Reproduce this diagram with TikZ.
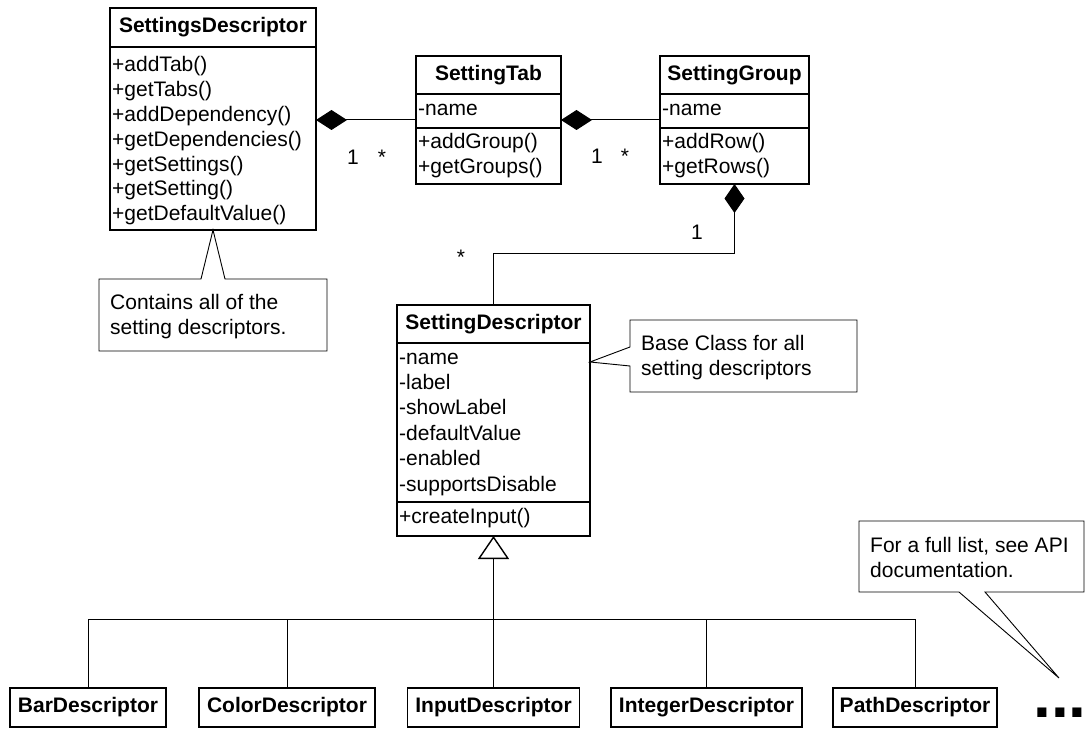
\documentclass[tikz,border=0pt]{standalone}
\usepackage{fontspec}
\setmainfont{Liberation Sans}
\usetikzlibrary{arrows.meta,calc}
\newcommand{\diagfont}{\fontsize{21pt}{25pt}\selectfont}
\newcommand{\dotsfont}{\fontsize{64pt}{70pt}\selectfont\bfseries}
\begin{document}
\begin{tikzpicture}[x=1pt,y=-1pt,
  cls/.style={draw,line width=1.6pt,anchor=north west,inner sep=0pt,outer sep=0pt},
  sepline/.style={line width=1.6pt},
  ttl/.style={font=\diagfont\bfseries,anchor=center,inner sep=0pt},
  mem/.style={font=\diagfont,anchor=base west,inner sep=0pt},
  conn/.style={line width=1pt},
  notebox/.style={draw,line width=0.9pt,fill=white,line join=miter},
  mult/.style={font=\diagfont,anchor=base,inner sep=0pt},
  leaf/.style={draw,line width=1.6pt,minimum height=39pt,font=\diagfont\bfseries,inner sep=0pt,outer sep=0pt},
]
\useasboundingbox (0,0) rectangle (1086,730);

% ---------- SettingsDescriptor ----------
\node[cls,minimum width=206pt,minimum height=222pt] (sd) at (110,8) {};
\draw[sepline] (sd.west |- 0,47) -- (sd.east |- 0,47);
\node[ttl] (sdT) at (sd.north |- 0,27.5) {SettingsDescriptor};
\foreach \txt [count=\i] in {{+addTab()},{+getTabs()},{+addDependency()},{+getDependencies()},{+getSettings()},{+getSetting()},{+getDefaultValue()}}
  \node[mem] (sdM\i) at (112,{72+24.8*(\i-1)}) {\txt};

% ---------- SettingTab ----------
\node[cls,minimum width=145pt,minimum height=128pt] (tab) at (416,56) {};
\draw[sepline] (tab.west |- 0,94) -- (tab.east |- 0,94);
\draw[sepline] (tab.west |- 0,128) -- (tab.east |- 0,128);
\node[ttl] (tabT) at (tab.north |- 0,75) {SettingTab};
\node[mem] (tabA1) at (418,116) {-name};
\node[mem] (tabM1) at (418,149) {+addGroup()};
\node[mem] (tabM2) at (418,174) {+getGroups()};

% ---------- SettingGroup ----------
\node[cls,minimum width=149pt,minimum height=128pt] (grp) at (660,56) {};
\draw[sepline] (grp.west |- 0,94) -- (grp.east |- 0,94);
\draw[sepline] (grp.west |- 0,128) -- (grp.east |- 0,128);
\node[ttl] (grpT) at (grp.north |- 0,75) {SettingGroup};
\node[mem] (grpA1) at (662,116) {-name};
\node[mem] (grpM1) at (662,149) {+addRow()};
\node[mem] (grpM2) at (662,174) {+getRows()};

% ---------- SettingDescriptor ----------
\node[cls,minimum width=193pt,minimum height=231pt] (sdesc) at (397,305) {};
\draw[sepline] (sdesc.west |- 0,343) -- (sdesc.east |- 0,343);
\draw[sepline] (sdesc.west |- 0,502) -- (sdesc.east |- 0,502);
\node[ttl] (sdescT) at (sdesc.north |- 0,324) {SettingDescriptor};
\foreach \txt [count=\i] in {{-name},{-label},{-showLabel},{-defaultValue},{-enabled},{-supportsDisable}}
  \node[mem] (sdescA\i) at (399,{364+25.4*(\i-1)}) {\txt};
\node[mem] (sdescM1) at (399,523) {+createInput()};

% ---------- subclasses ----------
\node[leaf,minimum width=156pt] (bar) at (88,707.5) {BarDescriptor};
\node[leaf,minimum width=176pt] (color) at (287,707.5) {ColorDescriptor};
\node[leaf,minimum width=172pt] (input) at (493.5,707.5) {InputDescriptor};
\node[leaf,minimum width=191pt] (integer) at (706.5,707.5) {IntegerDescriptor};
\node[leaf,minimum width=164pt] (path) at (915,707.5) {PathDescriptor};
\node[font=\dotsfont,anchor=base west,inner sep=0pt] (more) at (1033,717) {...};

% ---------- compositions ----------
\draw[conn,{Diamond[length=31pt,width=20pt]}-] (sd.east |- tab.west) -- (tab.west);
\draw[conn,{Diamond[length=31pt,width=20pt]}-] (tab.east) -- (grp.west);
\draw[conn,{Diamond[length=29pt,width=20pt]}-] (grp.south) -- (grp.south |- 0,253) -| (sdesc.north);

\node[mult] (m1a) at (353,165) {1};
\node[mult] (m1b) at (382,165) {*};
\node[mult] (m2a) at (597,164) {1};
\node[mult] (m2b) at (625,164) {*};
\node[mult] (m3a) at (697,239) {1};
\node[mult] (m3b) at (461,264) {*};

% ---------- generalization ----------
\coordinate (junc) at (sdesc.south |- 0,619);
\draw[conn] (bar.north) -- (bar.north |- junc) -- (path.north |- junc) -- (path.north);
\draw[conn] (color.north) -- (color.north |- junc);
\draw[conn] (input.north) -- (input.north |- junc);
\draw[conn] (integer.north) -- (integer.north |- junc);
\draw[conn,-{Triangle[length=23pt,width=31pt,fill=white,line width=1.4pt]}] (junc) -- (sdesc.south);

% ---------- notes ----------
\draw[notebox] (99,279) -- (201,279) -- (sd.south) -- (225,279) -- (327,279) -- (327,351) -- (99,351) -- cycle;
\node[mem] (n1a) at (110,309) {Contains all of the};
\node[mem] (n1b) at (110,334) {setting descriptors.};

\draw[notebox] (630,320) -- (857,320) -- (857,392) -- (630,392) -- (630,366) -- (sdesc.east |- 0,362) -- (630,347) -- cycle;
\node[mem] (n2a) at (641,350) {Base Class for all};
\node[mem] (n2b) at (641,375) {setting descriptors};

\coordinate (n3tip) at (1059,678);
\draw[notebox] (859,521) -- (1084,521) -- (1084,592) -- (985,592) -- (n3tip) -- (959,592) -- (859,592) -- cycle;
\node[mem] (n3a) at (870,552) {For a full list, see API};
\node[mem] (n3b) at (870,577) {documentation.};
\end{tikzpicture}
\end{document}
